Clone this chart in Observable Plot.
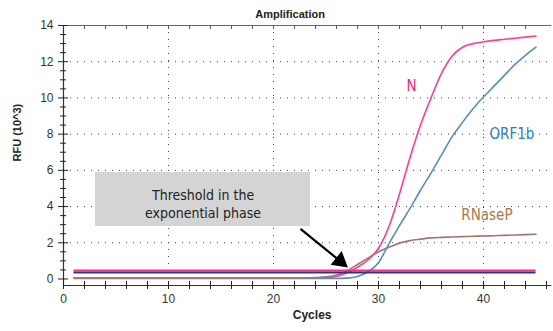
<!DOCTYPE html>
<html>
<head>
<meta charset="utf-8">
<script src="https://cdn.jsdelivr.net/npm/d3@7"></script>
<script src="https://cdn.jsdelivr.net/npm/@observablehq/plot@0.6"></script>
<style>
  html, body { margin: 0; padding: 0; background: #fff; }
  #chart svg { display: block; }
</style>
</head>
<body>
<div id="chart"></div>
<script>
// ---- data ----
const title = "Amplification";
const xLabel = "Cycles";
const yLabel = "RFU (10^3)";

const cycles = [1,2,3,4,5,6,7,8,9,10,11,12,13,14,15,16,17,18,19,20,21,22,23,24,25,26,27,28,29,30,31,32,33,34,35,36,37,38,39,40,41,42,43,44,45];

const nValues = [0.05,0.05,0.05,0.05,0.05,0.05,0.05,0.05,0.05,0.05,0.05,0.05,0.05,0.05,0.05,0.05,0.05,0.05,0.05,0.05,0.05,0.05,0.05,0.05,0.07,0.14,0.35,0.65,1.05,1.7,2.9,4.7,6.7,8.5,10.0,11.35,12.3,12.8,13.0,13.1,13.18,13.24,13.3,13.36,13.42];

const orf1bValues = [0.03,0.03,0.03,0.03,0.03,0.03,0.03,0.03,0.03,0.03,0.03,0.03,0.03,0.03,0.03,0.03,0.03,0.03,0.03,0.03,0.03,0.03,0.03,0.03,0.03,0.03,0.05,0.14,0.4,0.9,1.95,2.95,3.9,4.9,5.85,6.85,7.85,8.65,9.4,10.05,10.65,11.25,11.85,12.35,12.8];

const rnasepValues = [0.05,0.05,0.05,0.05,0.05,0.05,0.05,0.05,0.05,0.05,0.05,0.05,0.05,0.05,0.05,0.05,0.05,0.05,0.05,0.05,0.05,0.05,0.06,0.08,0.12,0.22,0.45,0.8,1.15,1.5,1.75,1.98,2.12,2.2,2.27,2.3,2.32,2.34,2.36,2.37,2.39,2.41,2.43,2.45,2.47];

const seriesNames = ["N", "ORF1b", "RNaseP"];
const seriesColors = ["#ff3d8d", "#5a8bc0", "#a07672"];
const labelColors = ["#f0287c", "#2b7cc2", "#a97846"];
const labelX = [33.14, 42.7, 40.33];
const labelY = [10.63, 7.98, 3.51];

const thresholdLevels = [0.47, 0.36];
const thresholdColors = ["#ff2a8a", "#1c3f7c"];
const thresholdStart = 1;
const thresholdEnd = 45;

const xMajorTicks = [0, 10, 20, 30, 40];
const xMinorTicks = [0,2,4,6,8,10,12,14,16,18,20,22,24,26,28,30,32,34,36,38,40,42,44,46];
const yMajorTicks = [0, 2, 4, 6, 8, 10, 12, 14];
const yMinorTicks = [0.5,1,1.5,2.5,3,3.5,4.5,5,5.5,6.5,7,7.5,8.5,9,9.5,10.5,11,11.5,12.5,13,13.5];
const xGrid = [10, 20, 30, 40];
const yGrid = [2, 4, 6, 8, 10, 12];

const xDomain = [0, 46.5];
const yDomain = [-0.36, 14];

// annotation (in data units)
const boxX = [3.05, 23.52];
const boxY = [2.9, 5.88];
const boxText = "Threshold in the\nexponential phase";
const boxTextPos = [13.29, 4.2];
const arrowFrom = [22.57, 2.77];
const arrowHead = [26.34, 0.99];

// ---- tables built from the arrays ----
const rows = [];
seriesNames.forEach((s, i) => {
  const vals = [nValues, orf1bValues, rnasepValues][i];
  cycles.forEach((c, j) => rows.push({series: s, cycle: c, rfu: vals[j]}));
});
const thresholds = thresholdLevels.map((v, i) => ({y: v, color: thresholdColors[i]}));
const labels = seriesNames.map((s, i) => ({text: s, x: labelX[i], y: labelY[i], color: labelColors[i]}));

const font = "'Liberation Sans', Arial, sans-serif";
const dotted = {stroke: "#444", strokeDasharray: "1,6", strokeWidth: 1};

const chart = Plot.plot({
  width: 553,
  height: 331,
  marginLeft: 63,
  marginRight: 1.75,
  marginTop: 25,
  marginBottom: 46,
  style: {background: "#fff", fontFamily: font, fontSize: "12px", color: "#333"},
  x: {domain: xDomain, axis: null},
  y: {domain: yDomain, axis: null},
  marks: [
    // dotted grid
    Plot.ruleY(yGrid, dotted),
    Plot.ruleX(xGrid, dotted),
    // frame lines
    Plot.ruleY([yDomain[1]], {stroke: "#666", strokeWidth: 1}),
    Plot.ruleX([xDomain[0]], {stroke: "#333", strokeWidth: 1.2}),
    Plot.ruleY([yDomain[0]], {stroke: "#333", strokeWidth: 1.2}),
    // y axis ticks (crossing)
    Plot.axisY({ticks: yMajorTicks, tickSize: 5, tickPadding: 5, tickFormat: "d", label: null, fontSize: 12, stroke: "#222", fill: "#333"}),
    Plot.axisY({ticks: yMajorTicks, tickSize: 5, dx: 5, tickFormat: () => "", label: null, stroke: "#222"}),
    Plot.axisY({ticks: yMinorTicks, tickSize: 3, tickFormat: () => "", label: null, stroke: "#222"}),
    Plot.axisY({ticks: yMinorTicks, tickSize: 3, dx: 3, tickFormat: () => "", label: null, stroke: "#222"}),
    // x axis ticks (crossing)
    Plot.axisX({ticks: xMinorTicks, tickSize: 4, tickFormat: () => "", label: null, stroke: "#222"}),
    Plot.axisX({ticks: xMinorTicks, tickSize: 4, dy: -4, tickFormat: () => "", label: null, stroke: "#222"}),
    Plot.axisX({ticks: xMajorTicks, tickSize: 0, tickPadding: 9, tickFormat: "d", label: null, fontSize: 12, fill: "#333"}),
    // top edge small ticks
    Plot.axisX({ticks: xMinorTicks.filter(d => d > 0 && d < 46), anchor: "top", tickSize: -3, tickFormat: () => "", label: null, stroke: "#555"}),
    // curves
    Plot.line(rows, {x: "cycle", y: "rfu", z: "series", stroke: d => seriesColors[seriesNames.indexOf(d.series)], strokeWidth: 1.6, curve: "monotone-x"}),
    // threshold lines
    Plot.ruleY(thresholds, {y: "y", x1: thresholdStart, x2: thresholdEnd, stroke: "color", strokeWidth: 2}),
    // series labels
    Plot.text(labels, {x: "x", y: "y", text: "text", fill: "color", fontSize: 15, fontFamily: "'DejaVu Sans Condensed', 'DejaVu Sans', sans-serif"}),
    // annotation box
    Plot.rect([{x1: boxX[0], x2: boxX[1], y1: boxY[0], y2: boxY[1]}], {x1: "x1", x2: "x2", y1: "y1", y2: "y2", fill: "#d4d4d4"}),
    Plot.text([boxText], {x: boxTextPos[0], y: boxTextPos[1], text: d => d, fontSize: 14, lineHeight: 1.35, fill: "#222", fontFamily: "'DejaVu Sans Condensed', 'DejaVu Sans', sans-serif"}),
    // arrow
    Plot.link([{x1: arrowFrom[0], y1: arrowFrom[1], x2: arrowHead[0], y2: arrowHead[1]}], {x1: "x1", y1: "y1", x2: "x2", y2: "y2", stroke: "#000", strokeWidth: 2.2}),
    Plot.dot([{x: arrowHead[0], y: arrowHead[1]}], {x: "x", y: "y", symbol: "triangle", r: 6.5, fill: "#000", stroke: null, rotate: 129}),
    // titles
    Plot.text([title], {frameAnchor: "top", dy: -15, dx: -17.5, text: d => d, fontWeight: "bold", fontSize: 11, fill: "#222"}),
    Plot.text([xLabel], {frameAnchor: "bottom", dy: 33, dx: 4.5, text: d => d, fontWeight: "bold", fontSize: 12, fill: "#222"}),
    Plot.text([yLabel], {frameAnchor: "left", dx: -46, dy: 6, rotate: -90, text: d => d, fontWeight: "bold", fontSize: 11, fill: "#222"})
  ]
});
document.getElementById("chart").appendChild(chart);
</script>
</body>
</html>
